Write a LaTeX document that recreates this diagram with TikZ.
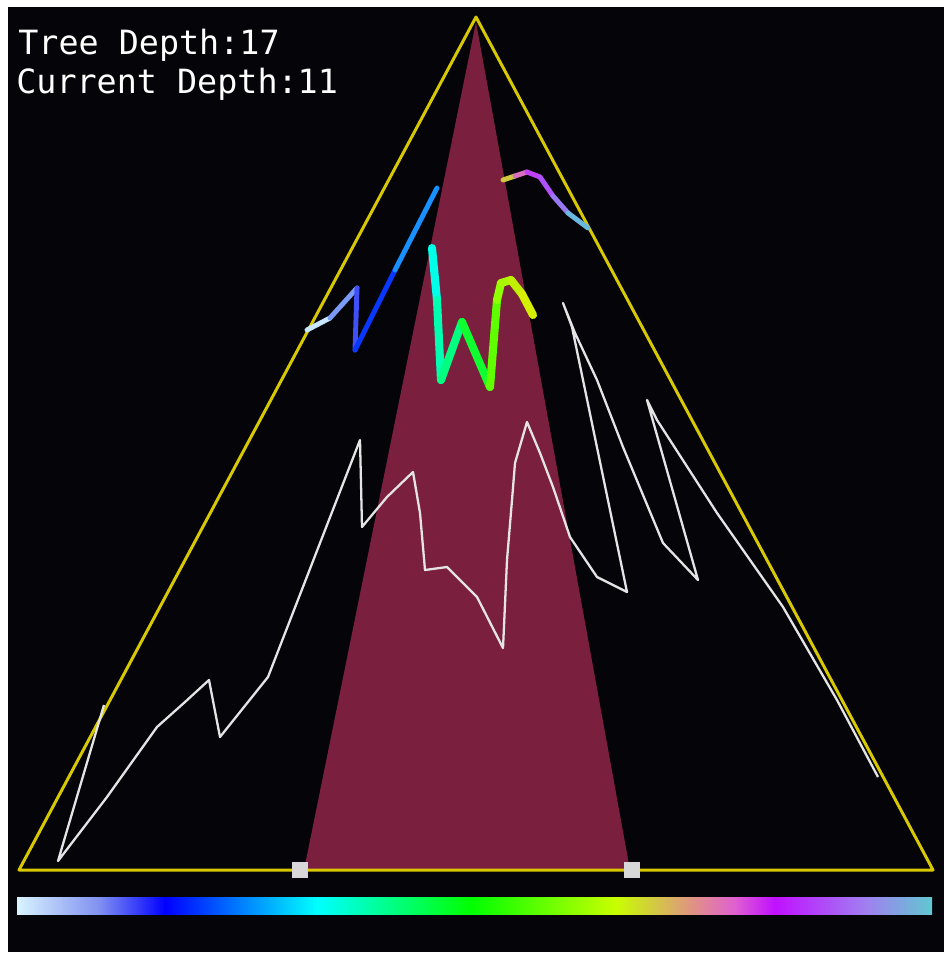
\documentclass[tikz,border=0pt]{standalone}
\usepackage{xcolor}
\usepackage{fontspec}
\usepackage{tikz}
\usetikzlibrary{positioning}

\newfontfamily\pixelfont{DejaVu Sans Mono}

\definecolor{bgblack}{HTML}{050408}
\definecolor{edgeyellow}{HTML}{D8C800}
\definecolor{wedgered}{HTML}{7A1F3E}
\definecolor{markgray}{HTML}{D8D8D8}
\definecolor{trailwhite}{HTML}{E4E4E4}

% spectrum stops
\definecolor{sA}{HTML}{D8F4FF}
\definecolor{sB}{HTML}{8090F0}
\definecolor{sC}{HTML}{0000FF}
\definecolor{sD}{HTML}{00FFFF}
\definecolor{sE}{HTML}{00FF00}
\definecolor{sF}{HTML}{C8FF00}
\definecolor{sG}{HTML}{E09088}
\definecolor{sH}{HTML}{E060D0}
\definecolor{sI}{HTML}{C010FF}
\definecolor{sJ}{HTML}{A080F0}
\definecolor{sK}{HTML}{60C8D0}
\pgfdeclarehorizontalshading{spectrum}{100bp}{color(0bp)=(sA); color(25bp)=(sA);
  color(29.5bp)=(sB); color(33.1bp)=(sC); color(41.4bp)=(sD); color(49.8bp)=(sE);
  color(57.7bp)=(sF); color(62.0bp)=(sG); color(64.2bp)=(sH); color(66.4bp)=(sI);
  color(71.4bp)=(sJ); color(75bp)=(sK); color(100bp)=(sK)}

\begin{document}
\begin{tikzpicture}[
    x=0.02cm, y=-0.02cm,
    edge/.style={draw=edgeyellow, line width=1.7pt, line join=round},
    wedge/.style={fill=wedgered},
    trail/.style={draw=trailwhite, line width=1.3pt, line join=round},
    thinpath/.style={line width=2.8pt, line cap=round},
    thickpath/.style={line width=4.6pt, line cap=round},
    marker/.style={rectangle, fill=markgray, minimum size=0.32cm, inner sep=0pt},
    hud/.style={text=white, inner sep=0pt, font=\pixelfont\fontsize{19}{19}\selectfont}
]

% Frame
\fill[white] (0,0) rectangle (951,960);
\fill[bgblack] (8,7) rectangle (944,952);

% Tree outline and current wedge
\coordinate (apex) at (476,17);
\coordinate (bl) at (19,870);
\coordinate (br) at (933,870);
\coordinate (wtop) at (476,22);
\coordinate (wl) at (304,870);
\coordinate (wr) at (630,870);
\fill[wedge] (wtop) -- (wl) -- (wr) -- cycle;
\draw[edge] (apex) -- (bl) -- (br) -- cycle;

% Explored path
\draw[trail] plot coordinates {(104,705) (58,861) (107,797) (157,727) (185,702)
  (209,680) (220,737) (268,677) (360,440) (362,527) (387,497) (413,472) (420,513)
  (425,570) (447,567) (460,580) (477,597) (503,648) (507,560) (512,500) (515,463)
  (527,422) (540,453) (553,487) (570,537) (597,577) (627,592) (572,327) (563,303)
  (575,333) (597,380) (623,447) (663,543) (698,580) (647,400) (657,420) (717,513)
  (783,607) (837,700) (878,777)};

% Coloured path
\foreach \xa/\ya/\xb/\yb/\c in {307/330/330/318/C8E8FF, 330/318/357/288/7A9AF8,
    357/288/355/350/4050F8, 355/350/395/270/0838FF, 395/270/437/188/1890FF,
    503/180/515/176/D0C840, 515/176/527/172/D870C0, 527/172/540/177/C040F8,
    540/177/553/196/B050FF, 553/196/568/213/9878F0, 568/213/588/228/68B8E0}
  {\definecolor{segc}{HTML}{\c}
   \draw[thinpath, segc] (\xa,\ya) -- (\xb,\yb);}
\foreach \xa/\ya/\xb/\yb/\c in {432/248/437/300/00FFE8, 437/300/441/380/00FFB0,
    441/380/462/322/00FF80, 462/322/490/387/10FF30, 490/387/497/300/60FF00,
    497/300/501/283/90FF00, 501/283/511/280/A8F800, 511/280/522/294/C0F000,
    522/294/533/315/D4F000}
  {\definecolor{segc}{HTML}{\c}
   \draw[thickpath, segc] (\xa,\ya) -- (\xb,\yb);}

% Wedge limits
\node[marker] (lmark) at (300,870) {};
\node[marker] (rmark) at (632,870) {};

% Colour scale
\shade[shading=spectrum] (17,897) rectangle (932,914);

% Labels
\node[hud, anchor=base west] (treedepth) at (18,54) {Tree Depth:17};
\node[hud, anchor=base west] (curdepth) at (16,93) {Current Depth:11};

\end{tikzpicture}
\end{document}
